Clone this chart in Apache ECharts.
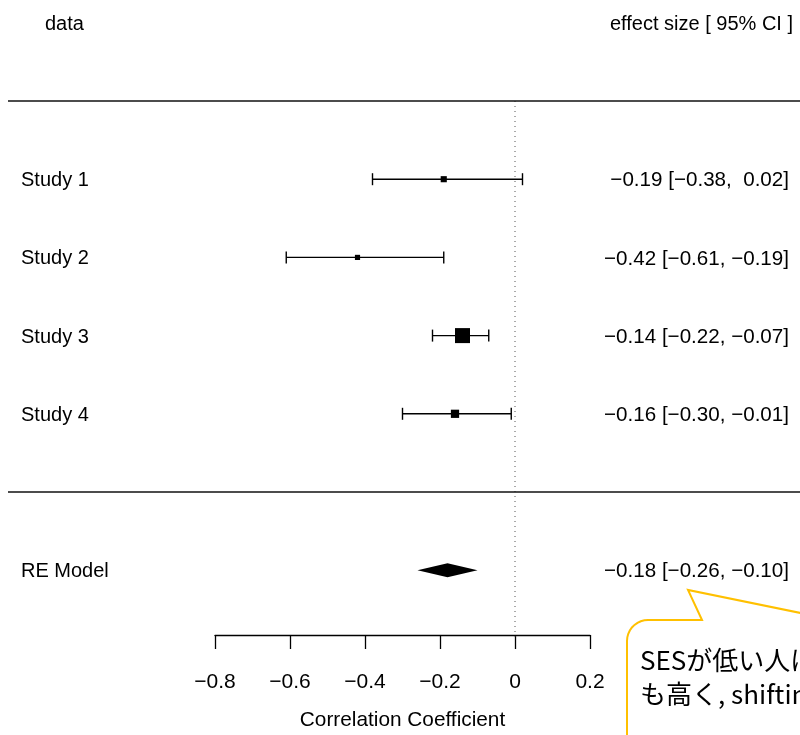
<!DOCTYPE html>
<html>
<head>
<meta charset="utf-8">
<script src="https://cdn.jsdelivr.net/npm/echarts@6/dist/echarts.min.js"></script>
<style>
  html, body { margin: 0; padding: 0; background: #fff; }
  #chart { width: 800px; height: 735px; }
</style>
</head>
<body>
<div id="chart"></div>
<script>
// forest plot data
const studies = ["Study 1", "Study 2", "Study 3", "Study 4"];
const est = [-0.19, -0.42, -0.14, -0.16];
const lower = [-0.38, -0.61, -0.22, -0.30];
const upper = [0.02, -0.19, -0.07, -0.01];
const weights = [10.5, 7.5, 63, 19]; // approx. % weights, from square size
const reLabel = "RE Model";
const reEst = -0.18;
const reLower = -0.26;
const reUpper = -0.10;
const ticks = [-0.8, -0.6, -0.4, -0.2, 0, 0.2];

// row layout (like metafor: studies k..1, summary at -1)
const rows = studies.map((s, i) => studies.length - i);
const reRow = -1;
const font = "'Liberation Sans', Arial, Helvetica, sans-serif";

function num(v) {
  let s = v.toFixed(2).replace("-", "\u2212");
  if (v >= 0) s = " " + s;
  return s;
}
function ciText(e, l, u) {
  return num(e) + " [" + num(l) + ", " + num(u) + "]";
}

const leftText = {};
const rightText = {};
rows.forEach((r, i) => {
  leftText[r] = studies[i];
  rightText[r] = ciText(est[i], lower[i], upper[i]);
});
leftText[reRow] = reLabel;
rightText[reRow] = ciText(reEst, reLower, reUpper);

const maxW = Math.max(...weights);
const sizes = weights.map(w => 15 * Math.sqrt(w / maxW));

// x range of the main panel, 375px per unit, 0 at x=515
const xMin = -0.8 - 207 / 375;
const xMax = 0.2 + 210 / 375;

// callout bubble outline (rounded top-left corner)
const bubble = [[702, 620], [688, 590], [830, 619], [830, 780], [627, 780], [627, 641]];
for (let a = 180; a <= 270; a += 10) {
  const r = (a * Math.PI) / 180;
  bubble.push([648 + 21 * Math.cos(r), 641 + 21 * Math.sin(r)]);
}

let ec = echarts.init(document.getElementById("chart"));
ec.setOption({
  animation: false,
  grid: [
    { left: 8, right: 0, top: 22.8, height: 625.6, outerBoundsMode: "none" },
    { left: 215, width: 375, top: 600, height: 35, outerBoundsMode: "none" }
  ],
  xAxis: [
    { gridIndex: 0, type: "value", min: xMin, max: xMax, show: false },
    {
      gridIndex: 1,
      type: "value",
      min: ticks[0],
      max: ticks[ticks.length - 1],
      interval: 0.2,
      position: "bottom",
      splitLine: { show: false },
      axisLine: { show: true, onZero: false, lineStyle: { color: "#000", width: 1.3 } },
      axisTick: { show: true, length: 14, lineStyle: { color: "#000", width: 1.3 } },
      axisLabel: {
        margin: 37,
        color: "#000",
        fontSize: 21,
        fontFamily: font,
        formatter: v => String(Number(v.toFixed(1))).replace("-", "\u2212")
      },
      name: "Correlation Coefficient",
      nameLocation: "middle",
      nameGap: 75,
      nameTextStyle: { color: "#000", fontSize: 20.8, fontFamily: font }
    }
  ],
  yAxis: [
    {
      gridIndex: 0,
      type: "value",
      min: -2,
      max: 6,
      interval: 1,
      position: "left",
      splitLine: { show: false },
      axisLine: { show: false },
      axisTick: { show: false },
      axisLabel: {
        inside: true,
        margin: 13,
        showMaxLabel: true,
        showMinLabel: true,
        color: "#000",
        fontSize: 20,
        fontFamily: font,
        formatter: v => (v === 6 ? "{h|data}" : leftText[v] ? "{s|" + leftText[v] + "}" : ""),
        rich: {
          h: { padding: [4, 0, 0, 24], fontSize: 20, fontFamily: font, color: "#000" },
          s: { padding: [3, 0, 0, 0], fontSize: 20, fontFamily: font, color: "#000" }
        }
      }
    },
    {
      gridIndex: 0,
      type: "value",
      min: -2,
      max: 6,
      interval: 1,
      position: "right",
      splitLine: { show: false },
      axisLine: { show: false },
      axisTick: { show: false },
      axisLabel: {
        inside: true,
        margin: 7,
        showMaxLabel: true,
        showMinLabel: true,
        color: "#000",
        fontSize: 20,
        fontFamily: font,
        formatter: v => (v === 6 ? "{h|effect size [ 95% CI ]}" : rightText[v] ? "{c|" + rightText[v] + "}" : ""),
        rich: {
          h: { padding: [3, 0, 0, 0], fontSize: 20, fontFamily: font, color: "#000" },
          c: { padding: [3, 4, 0, 0], fontSize: 20.6, fontFamily: font, color: "#000" }
        }
      }
    },
    { gridIndex: 1, type: "value", show: false, min: 0, max: 1 }
  ],
  series: [
    {
      // separator lines
      type: "line",
      data: [],
      markLine: {
        silent: true,
        symbol: "none",
        label: { show: false },
        lineStyle: { color: "#111", width: 1.6, type: "solid" },
        data: [{ yAxis: rows[0] + 1 }, { yAxis: 0 }]
      }
    },
    {
      // reference line at 0
      type: "line",
      data: [[0, rows[0] + 1], [0, -1.85]],
      symbol: "none",
      lineStyle: { color: "#555", width: 1, type: [1, 4] }
    },
    {
      // confidence intervals
      type: "custom",
      data: studies.map((s, i) => [lower[i], upper[i], rows[i]]),
      renderItem: (params, api) => {
        const p1 = api.coord([api.value(0), api.value(2)]);
        const p2 = api.coord([api.value(1), api.value(2)]);
        const st = { stroke: "#000", lineWidth: 1.4 };
        return {
          type: "group",
          children: [
            { type: "line", shape: { x1: p1[0], y1: p1[1], x2: p2[0], y2: p2[1] }, style: st },
            { type: "line", shape: { x1: p1[0], y1: p1[1] - 6, x2: p1[0], y2: p1[1] + 6 }, style: st },
            { type: "line", shape: { x1: p2[0], y1: p2[1] - 6, x2: p2[0], y2: p2[1] + 6 }, style: st }
          ]
        };
      }
    },
    {
      // point estimates
      type: "scatter",
      data: studies.map((s, i) => [est[i], rows[i]]),
      symbol: "rect",
      symbolSize: (val, params) => sizes[params.dataIndex],
      itemStyle: { color: "#000", opacity: 1 }
    },
    {
      // summary diamond
      type: "custom",
      data: [[reLower, reEst, reUpper, reRow]],
      renderItem: (params, api) => {
        const l = api.coord([api.value(0), api.value(3)]);
        const m = api.coord([api.value(1), api.value(3)]);
        const u = api.coord([api.value(2), api.value(3)]);
        return {
          type: "polygon",
          shape: { points: [[l[0], l[1]], [m[0], m[1] - 7], [u[0], u[1]], [m[0], m[1] + 7]] },
          style: { fill: "#000" }
        };
      }
    }
  ],
  graphic: [
    {
      type: "polygon",
      z: 100,
      shape: { points: bubble },
      style: { fill: "#fff", stroke: "#FFC000", lineWidth: 2 }
    },
    {
      type: "text",
      z: 101,
      left: 640,
      top: 647,
      style: {
        text: "SESが低い人は",
        fill: "#000",
        font: "26px 'Noto Sans CJK JP', sans-serif"
      }
    },
    {
      type: "text",
      z: 101,
      left: 640,
      top: 681,
      style: {
        text: "も高く, shifting",
        fill: "#000",
        font: "26px 'Noto Sans CJK JP', sans-serif"
      }
    }
  ]
});
</script>
</body>
</html>
